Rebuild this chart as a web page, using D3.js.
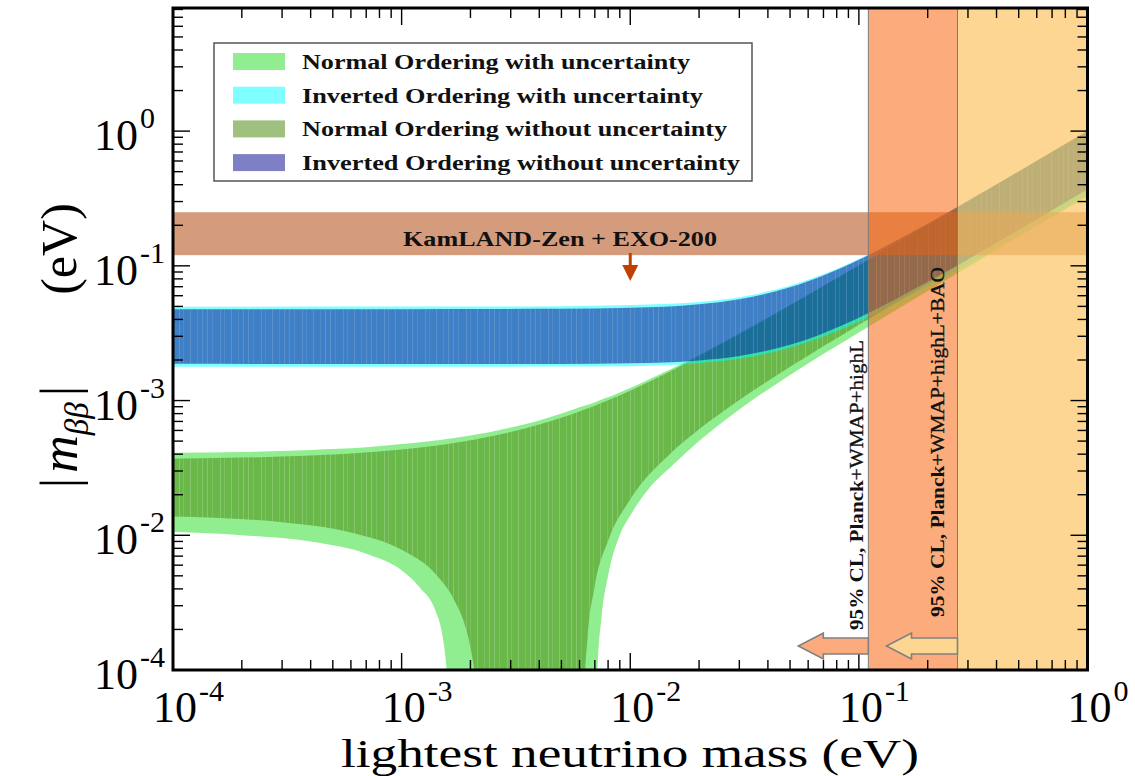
<!DOCTYPE html>
<html>
<head>
<meta charset="utf-8">
<style>
  body { margin: 0; background: #fff; }
  svg { display: block; font-family: 'Liberation Serif', 'Times New Roman', serif; }
  .tick { stroke: #000; stroke-width: 1.4px; }
  .tick-label { font-size: 44px; fill: #000; }
  .tick-sup { font-size: 30px; fill: #000; }
  .axis-title { font-size: 44px; fill: #000; }
  .legend-text { font-size: 20px; font-weight: bold; fill: #111; }
  .note { font-size: 21px; font-weight: bold; fill: #111; }
  .vnote { font-size: 19px; fill: #111; }
</style>
</head>
<body>
<script src="https://d3js.org/d3.v7.min.js"></script>
<script>

// ---- data ----
var xTickVals = [1e-4, 1e-3, 1e-2, 1e-1, 1]
var xTickExp = ["-4", "-3", "-2", "-1", "0"]
var yTickVals = [1, 1e-1, 1e-2, 1e-3, 1e-4]
var yTickExp = ["0", "-1", "-3", "-2", "-4"]   // as printed on the original

// normal ordering, with uncertainty (light green)
var noUncMass = [1e-4, 2e-4, 4e-4, 7e-4, 1e-3, 1.2e-3, 1.4e-3, 1.5e-3, 1.55e-3, 1.6e-3, 1.7e-3, 2e-3, 3e-3, 4e-3, 5e-3, 6e-3, 7e-3, 7.2e-3, 7.5e-3, 8e-3, 9e-3, 1e-2, 1.2e-2, 1.5e-2, 2e-2, 3e-2, 5e-2, 0.1, 0.2, 0.5, 1]
var noUncHi = [0.0041, 0.00415, 0.0043, 0.0045, 0.00475, 0.0049, 0.00505, 0.00512, 0.00516, 0.0052, 0.00527, 0.0055, 0.0063, 0.0071, 0.008, 0.0089, 0.0097, 0.0099, 0.0102, 0.0106, 0.0115, 0.0124, 0.0143, 0.0171, 0.0218, 0.0316, 0.0513, 0.101, 0.2005, 0.5, 1.0]
var noUncLo = [1.06e-3, 1.0e-3, 9.0e-4, 7.3e-4, 5.5e-4, 4.1e-4, 2.8e-4, 1.9e-4, 1.3e-4, 7e-5, 1e-5, 1e-5, 1e-5, 1e-5, 1e-5, 1e-5, 1e-5, 1e-4, 2.5e-4, 5e-4, 1.0e-3, 1.4e-3, 2.2e-3, 3.2e-3, 5.0e-3, 8.6e-3, 0.0155, 0.032, 0.065, 0.164, 0.328]

// normal ordering, without uncertainty
var noMass = [1e-4, 3e-4, 6e-4, 1e-3, 1.4e-3, 1.7e-3, 1.9e-3, 2e-3, 2.1e-3, 2.2e-3, 3e-3, 4e-3, 5e-3, 6e-3, 6.2e-3, 6.3e-3, 6.5e-3, 7e-3, 8e-3, 1e-2, 1.5e-2, 2e-2, 3e-2, 5e-2, 0.1, 0.2, 0.5, 1]
var noHi = [0.0037, 0.00384, 0.00405, 0.00433, 0.00462, 0.00485, 0.00499, 0.00507, 0.00514, 0.00522, 0.00584, 0.00663, 0.00745, 0.0083, 0.00847, 0.00856, 0.00873, 0.00916, 0.01004, 0.01184, 0.0165, 0.0213, 0.031, 0.0507, 0.1004, 0.2002, 0.5001, 1.0]
var noLo = [0.00138, 0.00125, 0.00105, 0.00078, 0.00052, 0.00033, 0.00021, 0.000147, 0.000084, 0.000024, 1e-5, 1e-5, 1e-5, 1e-5, 0.00002, 0.00007, 0.00017, 0.00042, 0.00091, 0.00185, 0.00405, 0.00612, 0.0101, 0.0178, 0.0366, 0.0737, 0.1845, 0.369]

// inverted ordering
var ioMass = [1e-4, 1e-3, 5e-3, 1e-2, 2e-2, 3e-2, 5e-2, 7e-2, 0.1, 0.2, 0.5, 1]
var ioUncHi = [0.0497, 0.0498, 0.0502, 0.0511, 0.0538, 0.0585, 0.0712, 0.0865, 0.1125, 0.2065, 0.503, 1.002]
var ioUncLo = [0.0178, 0.0178, 0.0179, 0.018, 0.0189, 0.0204, 0.0247, 0.0299, 0.0385, 0.0705, 0.171, 0.34]
var ioHi = [0.04759, 0.04764, 0.04795, 0.0488, 0.05189, 0.05656, 0.06933, 0.08491, 0.11096, 0.2057, 0.5023, 1.0012]
var ioLo = [0.01872, 0.0187, 0.01871, 0.0189, 0.01985, 0.02143, 0.02597, 0.03163, 0.04117, 0.07605, 0.1855, 0.3696]

var kamland = [0.12, 0.25]        // eV, excluded above
var planck = [0.11, 0.27, 1]      // eV, band edges

var legendLabels = ["Normal Ordering with uncertainty", "Inverted Ordering with uncertainty",
  "Normal Ordering without uncertainty", "Inverted Ordering without uncertainty"]

// ---- layout ----
var width = 1135
var height = 776
var pL = 173, pR = 1087.5, pT = 8, pB = 670

var x = d3.scaleLog().domain([1e-4, 1]).range([pL, pR])
var y = d3.scaleLog().domain([1e-4, 8.2]).range([pB, pT])

var svg = d3.select("body").append("svg")
  .attr("width", width)
  .attr("height", height)

var defs = svg.append("defs")
defs.append("clipPath").attr("id", "plot")
  .append("rect")
  .attr("x", pL).attr("y", pT)
  .attr("width", pR - pL).attr("height", pB - pT)

// faint vertical streaks, the original bands are drawn from many thin lines
var pat = defs.append("pattern").attr("id", "streaks")
  .attr("patternUnits", "userSpaceOnUse").attr("width", 41).attr("height", 10)
;[2, 7, 15, 19, 26, 33, 38].forEach(function(p, i) {
  pat.append("rect").attr("x", p).attr("y", 0).attr("width", 1).attr("height", 10)
    .attr("fill", "#fff").attr("fill-opacity", i % 2 ? 0.12 : 0.2)
})

var plot = svg.append("g").attr("clip-path", "url(#plot)")

function band(mass, lo, hi) {
  var pts = mass.map(function(m, i) { return { m: m, lo: lo[i], hi: hi[i] } })
  return d3.area()
    .curve(d3.curveMonotoneX)
    .x(function(d) { return x(d.m) })
    .y0(function(d) { return y(d.lo) })
    .y1(function(d) { return y(d.hi) })(pts)
}

// band styles (same ones used for legend swatches)
var styles = [
  { fill: "#90ee90", op: 1 },
  { fill: "#00ffff", op: 0.5 },
  { fill: "#418101", op: 0.5 },
  { fill: "#00008b", op: 0.5 }
]

plot.append("path").attr("d", band(noUncMass, noUncLo, noUncHi))
  .attr("fill", styles[0].fill).attr("fill-opacity", styles[0].op)
plot.append("path").attr("d", band(noMass, noLo, noHi))
  .attr("fill", styles[2].fill).attr("fill-opacity", styles[2].op)
plot.append("path").attr("d", band(noMass, noLo, noHi))
  .attr("fill", "url(#streaks)")
plot.append("path").attr("d", band(ioMass, ioUncLo, ioUncHi))
  .attr("fill", styles[1].fill).attr("fill-opacity", styles[1].op)
plot.append("path").attr("d", band(ioMass, ioLo, ioHi))
  .attr("fill", styles[3].fill).attr("fill-opacity", styles[3].op)
plot.append("path").attr("d", band(ioMass, ioLo, ioHi))
  .attr("fill", "url(#streaks)").attr("opacity", 0.7)

// ticks on all four sides
function isMajor(v) {
  var l = Math.log10(v)
  return Math.abs(l - Math.round(l)) < 1e-6
}
var ticks = svg.append("g")
x.ticks().forEach(function(v) {
  var len = isMajor(v) ? 17 : 10
  ticks.append("line").attr("class", "tick")
    .attr("x1", x(v)).attr("x2", x(v)).attr("y1", pB).attr("y2", pB - len)
  ticks.append("line").attr("class", "tick")
    .attr("x1", x(v)).attr("x2", x(v)).attr("y1", pT).attr("y2", pT + len)
})
y.ticks().forEach(function(v) {
  var len = isMajor(v) ? 17 : 10
  ticks.append("line").attr("class", "tick")
    .attr("x1", pL).attr("x2", pL + len).attr("y1", y(v)).attr("y2", y(v))
  ticks.append("line").attr("class", "tick")
    .attr("x1", pR).attr("x2", pR - len).attr("y1", y(v)).attr("y2", y(v))
})

// KamLAND-Zen + EXO-200 band
plot.append("rect")
  .attr("x", pL).attr("width", pR - pL)
  .attr("y", y(kamland[1])).attr("height", y(kamland[0]) - y(kamland[1]))
  .attr("fill", "rgb(183,90,37)").attr("fill-opacity", 0.6)

// cosmology bands
plot.append("rect")
  .attr("x", x(planck[0])).attr("width", x(planck[1]) - x(planck[0]))
  .attr("y", pT).attr("height", pB - pT)
  .attr("fill", "rgb(250,104,17)").attr("fill-opacity", 0.55)
  .attr("stroke", "#7c7c7c").attr("stroke-width", 1)
plot.append("rect")
  .attr("x", x(planck[1])).attr("width", x(planck[2]) - x(planck[1]))
  .attr("y", pT).attr("height", pB - pT)
  .attr("fill", "rgb(251,199,106)").attr("fill-opacity", 0.73)
  .attr("stroke", "#8a7a6a").attr("stroke-width", 1)

// frame
svg.append("rect")
  .attr("x", pL).attr("y", pT)
  .attr("width", pR - pL).attr("height", pB - pT)
  .attr("fill", "none").attr("stroke", "#000").attr("stroke-width", 3)

// tick labels
xTickVals.forEach(function(v, i) {
  svg.append("text").attr("class", "tick-label")
    .attr("x", x(v) + 24).attr("y", 722).attr("text-anchor", "end").text("10")
  svg.append("text").attr("class", "tick-sup")
    .attr("x", x(v) + 26).attr("y", 701).text(xTickExp[i])
})
yTickVals.forEach(function(v, i) {
  svg.append("text").attr("class", "tick-label")
    .attr("x", 138).attr("y", y(v) + 19).attr("text-anchor", "end").text("10")
  svg.append("text").attr("class", "tick-sup")
    .attr("x", 140).attr("y", y(v) - 3).text(yTickExp[i])
})

// axis titles
svg.append("text").attr("class", "axis-title")
  .attr("x", 630).attr("y", 767).attr("text-anchor", "middle")
  .style("font-size", "41px")
  .attr("textLength", 578).attr("lengthAdjust", "spacingAndGlyphs")
  .text("lightest neutrino mass (eV)")

var yt = svg.append("text").attr("class", "axis-title")
  .attr("transform", "translate(77,437) rotate(-90)")
  .attr("text-anchor", "middle")
  .style("font-size", "52px")
yt.append("tspan").text("|")
yt.append("tspan").attr("dx", 5).attr("font-style", "italic").text("m")
yt.append("tspan").attr("dy", 11).attr("font-style", "italic").attr("font-size", 33).text("\u03b2\u03b2")
yt.append("tspan").attr("dy", -11).attr("dx", 6).text("|")
svg.append("text").attr("class", "axis-title")
  .attr("transform", "translate(76,249) rotate(-90)")
  .attr("text-anchor", "middle")
  .style("font-size", "50px")
  .text("(eV)")

// KamLAND label and arrow
svg.append("text").attr("class", "note")
  .attr("x", 560).attr("y", 246).attr("text-anchor", "middle")
  .attr("textLength", 314).attr("lengthAdjust", "spacingAndGlyphs")
  .text("KamLAND-Zen + EXO-200")
var ax = x(1e-2)
svg.append("line")
  .attr("x1", ax).attr("x2", ax).attr("y1", 253).attr("y2", 268)
  .attr("stroke", "#bf4000").attr("stroke-width", 3)
svg.append("path")
  .attr("d", "M" + (ax - 8) + ",265L" + (ax + 8) + ",265L" + ax + ",281Z")
  .attr("fill", "#bf4000")

// cosmology labels
function vlabel(xp, yp, len, extra) {
  var t = svg.append("text").attr("class", "vnote")
    .attr("transform", "translate(" + xp + "," + yp + ") rotate(-90)")
    .attr("textLength", len).attr("lengthAdjust", "spacingAndGlyphs")
  t.append("tspan").attr("font-weight", "bold").text("95% CL, Planck")
  t.append("tspan").attr("stroke", "#111").attr("stroke-width", 0.35).text(extra)
}
vlabel(x(planck[0]) - 5, 630, 290, "+WMAP+highL")
vlabel(x(planck[1]) - 13, 617, 350, "+WMAP+highL+BAO")

// left-pointing arrows at the bottom
function leftArrow(xEnd, tipOff, fill) {
  var xt = xEnd - tipOff, xh = xt + 25, yc = 646
  var d = "M" + xt + "," + yc + "L" + xh + "," + (yc - 13) + "L" + xh + "," + (yc - 8) +
    "L" + xEnd + "," + (yc - 8) + "L" + xEnd + "," + (yc + 8) + "L" + xh + "," + (yc + 8) +
    "L" + xh + "," + (yc + 13) + "Z"
  svg.append("path").attr("d", d)
    .attr("fill", fill).attr("stroke", "#808080").attr("stroke-width", 1.6)
}
leftArrow(x(planck[0]), 70, "#fbab7d")
leftArrow(x(planck[1]), 71, "#fdd692")

// legend
var lg = svg.append("g")
lg.append("rect")
  .attr("x", 214).attr("y", 43).attr("width", 538).attr("height", 138)
  .attr("fill", "#fff").attr("stroke", "#555").attr("stroke-width", 1.5)
var legendWidths = [388, 401, 425, 438]
legendLabels.forEach(function(lab, i) {
  lg.append("rect")
    .attr("x", 233).attr("y", 53 + i * 33.7).attr("width", 52).attr("height", 17)
    .attr("fill", styles[i].fill).attr("fill-opacity", styles[i].op)
  lg.append("text").attr("class", "legend-text")
    .attr("x", 302).attr("y", 69 + i * 33.7)
    .attr("textLength", legendWidths[i]).attr("lengthAdjust", "spacingAndGlyphs")
    .text(lab)
})
</script>
</body>
</html>
